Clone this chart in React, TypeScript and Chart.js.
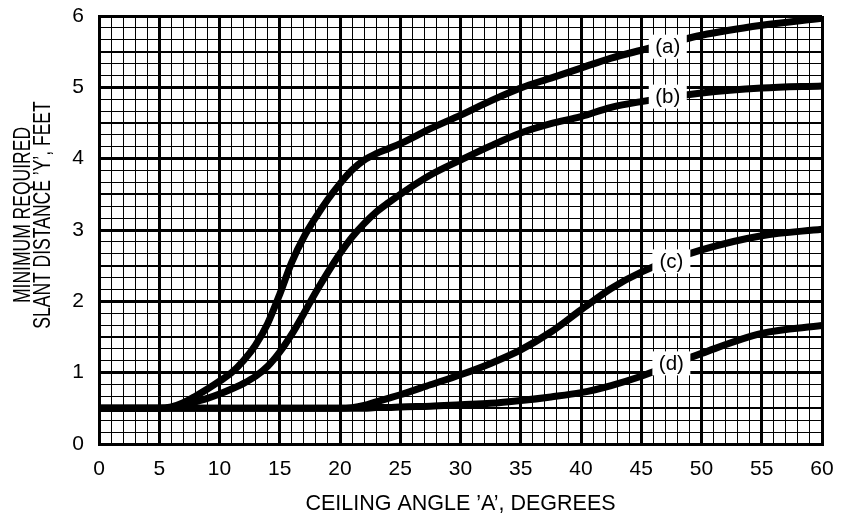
import React, { useEffect, useRef } from 'react';
import { Chart, registerables } from 'chart.js';

Chart.register(...registerables);

// Ceiling angle (degrees) sample positions
const angles = [0, 5, 6, 7, 8, 9, 10, 11, 12, 13, 14, 15, 16, 17, 18, 19, 20, 21, 22, 23, 24, 25, 27.5, 30, 32.5, 35, 37.5, 40, 42.5, 45, 50, 55, 60];
// Minimum required slant distance (feet) for each curve
const curveA = [0.5, 0.5, 0.52, 0.58, 0.67, 0.77, 0.88, 1.0, 1.17, 1.39, 1.69, 2.1, 2.55, 2.9, 3.18, 3.43, 3.65, 3.84, 3.98, 4.07, 4.14, 4.21, 4.42, 4.61, 4.81, 4.99, 5.13, 5.27, 5.41, 5.52, 5.73, 5.87, 5.97];
const curveB = [0.5, 0.5, 0.51, 0.54, 0.59, 0.64, 0.7, 0.77, 0.85, 0.95, 1.09, 1.29, 1.54, 1.83, 2.13, 2.41, 2.67, 2.9, 3.09, 3.25, 3.38, 3.5, 3.77, 3.98, 4.18, 4.36, 4.49, 4.59, 4.72, 4.8, 4.92, 4.99, 5.02];
const curveC = [0.5, 0.5, 0.5, 0.5, 0.5, 0.5, 0.5, 0.5, 0.5, 0.5, 0.5, 0.5, 0.5, 0.5, 0.5, 0.5, 0.5, 0.51, 0.54, 0.59, 0.64, 0.69, 0.83, 0.97, 1.13, 1.32, 1.57, 1.88, 2.18, 2.41, 2.72, 2.92, 3.01];
const curveD = [0.5, 0.5, 0.5, 0.5, 0.5, 0.5, 0.5, 0.5, 0.5, 0.5, 0.5, 0.5, 0.5, 0.5, 0.5, 0.5, 0.5, 0.5, 0.5, 0.51, 0.51, 0.52, 0.53, 0.55, 0.57, 0.61, 0.66, 0.72, 0.82, 0.95, 1.27, 1.55, 1.66];

const curveNames = ['(a)', '(b)', '(c)', '(d)'];
const labelAngles = [47.2, 47.2, 47.5, 47.5];
const labelValues = [5.57, 4.87, 2.56, 1.13];

const xMin = 0;
const xMax = 60;
const yMin = 0;
const yMax = 6;
const xTitle = 'CEILING ANGLE \u2019A\u2019, DEGREES';
const yTitleLines = ['MINIMUM REQUIRED', 'SLANT DISTANCE \u2019Y\u2019, FEET'];

const FONT = '"Liberation Sans", Arial, Helvetica, sans-serif';

const toPoints = (ys: number[]) => angles.map((x, i) => ({ x, y: ys[i] }));

const labelPlugin = {
  id: 'curveLabels',
  afterDatasetsDraw(chart: any) {
    const { ctx, scales } = chart;
    const xs = scales.x;
    const ys = scales.y;
    ctx.save();
    ctx.font = `20.5px ${FONT}`;
    ctx.textAlign = 'center';
    ctx.textBaseline = 'middle';
    curveNames.forEach((name, i) => {
      const px = xs.getPixelForValue(labelAngles[i]);
      const py = ys.getPixelForValue(labelValues[i]);
      ctx.fillStyle = '#fff';
      ctx.fillRect(px - 19, py - 12, 38, 24);
      ctx.fillStyle = '#000';
      ctx.fillText(name, px, py + 1);
    });
    ctx.restore();
  },
};

const yTitlePlugin = {
  id: 'yTitle',
  afterDraw(chart: any) {
    const { ctx } = chart;
    ctx.save();
    ctx.fillStyle = '#000';
    ctx.font = `24px ${FONT}`;
    ctx.textAlign = 'center';
    ctx.textBaseline = 'middle';
    const xs = [23, 43];
    yTitleLines.forEach((line, i) => {
      ctx.save();
      ctx.translate(xs[i], 215);
      ctx.rotate(-Math.PI / 2);
      ctx.scale(0.73, 1);
      ctx.fillText(line, 0, 0);
      ctx.restore();
    });
    ctx.restore();
  },
};

export default function App() {
  const canvasRef = useRef<HTMLCanvasElement | null>(null);

  useEffect(() => {
    document.body.style.margin = '0';
    const canvas = canvasRef.current;
    if (!canvas) return;
    const ds = (data: number[]) => ({
      data: toPoints(data),
      borderColor: '#000',
      backgroundColor: '#000',
      borderWidth: 7,
      pointRadius: 0,
      fill: false,
      cubicInterpolationMode: 'monotone' as const,
      borderCapStyle: 'round' as const,
      borderJoinStyle: 'round' as const,
    });
    const chart = new Chart(canvas, {
      type: 'line',
      data: {
        datasets: [ds(curveA), ds(curveB), ds(curveC), ds(curveD)],
      },
      options: {
        animation: false,
        responsive: false,
        devicePixelRatio: 1,
        layout: { padding: { top: 16, right: 22, left: 0, bottom: 0 } },
        plugins: { legend: { display: false }, tooltip: { enabled: false } },
        scales: {
          x: {
            type: 'linear',
            min: xMin,
            max: xMax,
            afterFit: (s: any) => { s.height = 74; s.paddingLeft = 0; s.paddingRight = 0; },
            border: { display: true, color: '#000', width: 3 },
            grid: {
              drawTicks: false,
              color: '#000',
              lineWidth: (c: any) => {
                const v = c.tick ? Math.round(c.tick.value) : 0;
                return v % 5 === 0 ? 3 : 1;
              },
            },
            ticks: {
              stepSize: 1,
              autoSkip: false,
              maxRotation: 0,
              padding: 13,
              color: '#000',
              font: { family: FONT, size: 21 },
              callback: (v: any) => {
                const r = Math.round(Number(v));
                return r % 5 === 0 ? String(r) : '';
              },
            },
            title: {
              display: true,
              text: xTitle,
              color: '#000',
              font: { family: FONT, size: 21.5, lineHeight: 1.2 },
              padding: { top: 0, bottom: 1 },
            },
          },
          y: {
            type: 'linear',
            min: yMin,
            max: yMax,
            afterFit: (s: any) => { s.width = 99; s.paddingTop = 0; s.paddingBottom = 0; },
            border: { display: true, color: '#000', width: 3 },
            grid: {
              drawTicks: false,
              color: '#000',
              lineWidth: (c: any) => {
                const k = c.tick ? Math.round(c.tick.value * 6) : 0;
                if (k % 6 === 0) return 3;
                if (k % 3 === 0) return 2;
                return 1;
              },
            },
            ticks: {
              stepSize: 1 / 6,
              autoSkip: false,
              padding: 15,
              color: '#000',
              font: { family: FONT, size: 21 },
              callback: (v: any) => {
                const k = Math.round(Number(v) * 6);
                return k % 6 === 0 ? String(k / 6) : '';
              },
            },
          },
        },
      },
      plugins: [labelPlugin, yTitlePlugin],
    });
    return () => chart.destroy();
  }, []);

  return (
    <div style={{ width: 844, height: 518 }}>
      <canvas ref={canvasRef} width={844} height={518} style={{ display: 'block' }} />
    </div>
  );
}
